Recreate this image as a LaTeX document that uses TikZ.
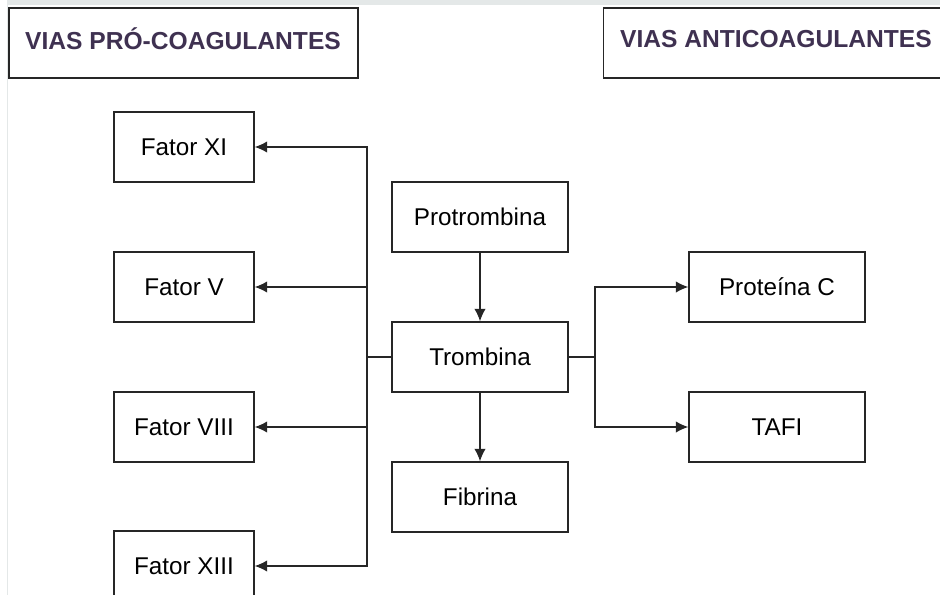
\documentclass[tikz,border=0pt]{standalone}
\usepackage{fontspec}
\setmainfont{Liberation Sans}
\usetikzlibrary{arrows.meta,positioning}
\tikzset{>={Latex[length=2.5mm,width=2.3mm]}}
\definecolor{vtit}{RGB}{63,49,81}
\definecolor{borda}{RGB}{228,232,232}

\begin{document}
\begin{tikzpicture}[x=0.02cm,y=-0.02cm,
	caixa/.style={draw=black!85, line width=0.8pt, minimum width=2.8cm, minimum height=1.4cm, font=\fontsize{13.8}{16}\selectfont},
	centro/.style={caixa, minimum width=3.52cm},
	titulo/.style={draw=black!85, line width=0.8pt, minimum width=6.98cm, minimum height=1.4cm},
	tittxt/.style={text=vtit, font=\bfseries\fontsize{14}{16}\selectfont},
	liga/.style={line width=0.8pt, black!85}]
	\clip (0,0) rectangle (940,595);
	\fill (7,0) rectangle (940,5) [borda];
	\draw (7,5)--(7,595) [borda];
	\node [titulo] (pro) at (183.5,43) {};
	\node [tittxt] (protxt) at (183,39) {VIAS PRÓ-COAGULANTES};
	\node [titulo, minimum width=7.1cm] (anti) at (781,43) {};
	\node [tittxt, anchor=west] (antitxt) at (614,39) {VIAS ANTICOAGULANTES};
	\node [caixa] (f11) at (184,147) {Fator XI};
	\node [caixa] (f5) at (184,287) {Fator V};
	\node [caixa] (f8) at (184,427) {Fator VIII};
	\node [caixa] (f13) at (184,566) {Fator XIII};
	\node [centro] (protr) at (480,217) {Protrombina};
	\node [centro] (tromb) at (480,357) {Trombina};
	\node [centro] (fibr) at (480,497) {Fibrina};
	\node [centro] (protc) at (777,287) {Proteína C};
	\node [centro] (tafi) at (777,427) {TAFI};
	\coordinate (bese) at (367,357);
	\coordinate (bdir) at (595,357);
	\draw [liga, ->] (protr)--(tromb);
	\draw [liga, ->] (tromb)--(fibr);
	\draw [liga] (tromb.west)--(bese);
	\draw [liga] (tromb.east)--(bdir);
	\foreach \f in {f11, f5, f8, f13}
		\draw [liga, ->] (bese) |- (\f.east);
	\foreach \p in {protc, tafi}
		\draw [liga, ->] (bdir) |- (\p.west);
\end{tikzpicture}
\end{document}
